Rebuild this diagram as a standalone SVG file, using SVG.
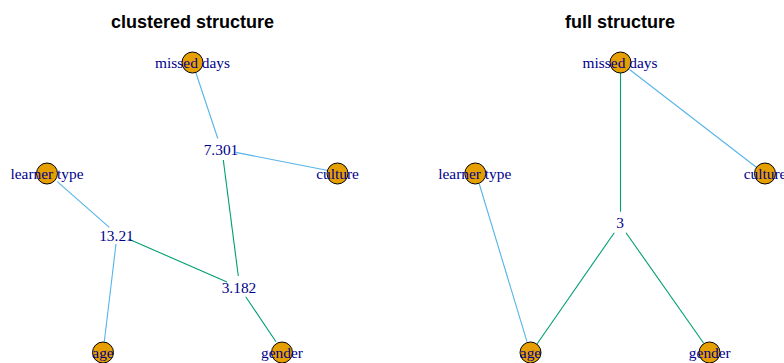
<svg xmlns="http://www.w3.org/2000/svg" width="784" height="363" viewBox="0 0 784 363">
<style>
.title{font-family:"Liberation Sans",Arial,sans-serif;font-weight:bold;font-size:18px;fill:#000;text-anchor:middle}
.lbl{font-family:"Liberation Serif","Times New Roman",serif;font-size:15.4px;fill:#00008B;text-anchor:middle}
.v{fill:#E69F00;stroke:#000;stroke-width:1}
.b{stroke:#56B4E9;stroke-width:1.1;fill:none}
.g{stroke:#009E73;stroke-width:1.1;fill:none}
</style>
<rect width="784" height="363" fill="#fff"/>
<text class="title" x="192.5" y="27.5">clustered structure</text>
<text class="title" x="620" y="27.5">full structure</text>
<g id="connectors">
<line class="b" x1="195.8" y1="72.5" x2="217.8" y2="138.5"/>
<line class="b" x1="235.7" y1="152.4" x2="328" y2="170.5"/>
<line class="g" x1="223.3" y1="160" x2="238.3" y2="276"/>
<line class="b" x1="57.3" y1="181.7" x2="109.3" y2="227.3"/>
<line class="b" x1="116" y1="244" x2="104.3" y2="341.7"/>
<line class="g" x1="128.5" y1="239" x2="227" y2="282"/>
<line class="g" x1="245.7" y1="296.7" x2="276" y2="341.7"/>
<line class="g" x1="620.5" y1="73" x2="620.5" y2="211.7"/>
<line class="b" x1="629.5" y1="69.5" x2="757" y2="167.7"/>
<line class="b" x1="479.3" y1="184" x2="527" y2="341.7"/>
<line class="g" x1="614.3" y1="232.7" x2="537" y2="344"/>
<line class="g" x1="626" y1="232.7" x2="703.7" y2="343.3"/>
</g>
<g id="l-missed"><circle class="v" cx="192.5" cy="62.5" r="10.5"/><text class="lbl" x="192.5" y="68">missed days</text></g>
<g id="l-learner"><circle class="v" cx="47" cy="173.5" r="10.5"/><text class="lbl" x="47" y="179">learner type</text></g>
<g id="l-culture"><circle class="v" cx="337.5" cy="173.5" r="10.5"/><text class="lbl" x="337.5" y="179">culture</text></g>
<g id="l-age"><circle class="v" cx="103" cy="352.5" r="10.5"/><text class="lbl" x="103" y="358">age</text></g>
<g id="l-gender"><circle class="v" cx="282" cy="352.5" r="10.5"/><text class="lbl" x="282" y="358">gender</text></g>
<g id="l-c1"><text class="lbl" x="221" y="154.5">7.301</text></g>
<g id="l-c2"><text class="lbl" x="116.5" y="240.5">13.21</text></g>
<g id="l-c3"><text class="lbl" x="239" y="292.5">3.182</text></g>
<g id="r-missed"><circle class="v" cx="620.5" cy="62.5" r="10.5"/><text class="lbl" x="620" y="68">missed days</text></g>
<g id="r-learner"><circle class="v" cx="475.3" cy="173.5" r="10.5"/><text class="lbl" x="474.8" y="179">learner type</text></g>
<g id="r-culture"><circle class="v" cx="765" cy="173.5" r="10.5"/><text class="lbl" x="765" y="179">culture</text></g>
<g id="r-age"><circle class="v" cx="530.5" cy="352.5" r="10.5"/><text class="lbl" x="530.5" y="358">age</text></g>
<g id="r-gender"><circle class="v" cx="709.5" cy="352.5" r="10.5"/><text class="lbl" x="709.8" y="358">gender</text></g>
<g id="r-c"><text class="lbl" x="620" y="228">3</text></g>
</svg>
